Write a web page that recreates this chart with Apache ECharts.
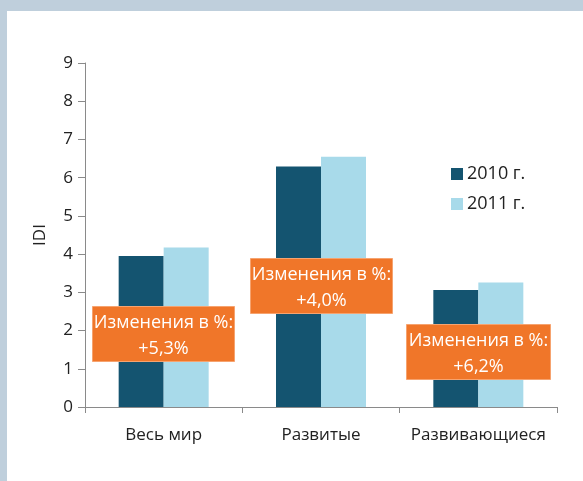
<!DOCTYPE html>
<html>
<head>
<meta charset="utf-8">
<script src="https://cdn.jsdelivr.net/npm/echarts@6/dist/echarts.min.js"></script>
<style>
    body { margin: 0; background: #bfcfdc; }
    #main {
        position: absolute;
        left: 7px;
        top: 11px;
        width: 576px;
        height: 470px;
        background: #ffffff;
    }
</style>
</head>
<body>
<div id="main"></div>
<script>
    // данные
    var categories = ['Весь мир', 'Развитые', 'Развивающиеся']
    var seriesNames = ['2010 г.', '2011 г.']
    var values2010 = [3.95, 6.29, 3.06]
    var values2011 = [4.17, 6.55, 3.26]
    var changeLabels = ['+5,3%', '+4,0%', '+6,2%']
    var changeTitle = 'Изменения в %:'

    var font = 'Open Sans'
    var myChart = echarts.init(document.getElementById('main'))

    // оранжевые плашки
    var boxes = [
        {x: 85, y: 295, w: 142, h: 55},
        {x: 243, y: 247, w: 142, h: 55},
        {x: 399, y: 313, w: 144, h: 55}
    ]
    var graphics = boxes.map(function (b, i) {
        return {
            type: 'group',
            left: b.x,
            top: b.y,
            zlevel: 1,
            children: [
                {
                    type: 'rect',
                    z: 100,
                    shape: {x: 0, y: 0, width: b.w, height: b.h},
                    style: {fill: '#f07629', stroke: '#f6a36f', lineWidth: 1}
                },
                {
                    type: 'text',
                    z: 101,
                    x: b.w / 2,
                    y: 16,
                    style: {
                        text: changeTitle,
                        fill: '#ffffff',
                        font: '18px "' + font + '"',
                        align: 'center',
                        verticalAlign: 'middle'
                    }
                },
                {
                    type: 'text',
                    z: 101,
                    x: b.w / 2,
                    y: 42,
                    style: {
                        text: changeLabels[i],
                        fill: '#ffffff',
                        font: '18px "' + font + '"',
                        align: 'center',
                        verticalAlign: 'middle'
                    }
                }
            ]
        }
    })

    myChart.setOption({
        animation: false,
        textStyle: {fontFamily: font},
        legend: {
            orient: 'vertical',
            left: 439,
            top: 149,
            itemWidth: 12,
            itemHeight: 12,
            itemGap: 12,
            icon: 'rect',
            data: seriesNames,
            textStyle: {fontSize: 18, color: '#222', fontFamily: font, padding: [0, 0, 0, -1]}
        },
        grid: {left: 78, top: 52, right: 26, bottom: 74},
        xAxis: {
            type: 'category',
            data: categories,
            axisLine: {lineStyle: {color: '#8a8a8a', width: 1}},
            axisTick: {show: true, length: 6, lineStyle: {color: '#8a8a8a'}},
            axisLabel: {interval: 0, fontSize: 17, color: '#222', margin: 20, fontFamily: font}
        },
        yAxis: {
            type: 'value',
            min: 0,
            max: 9,
            interval: 1,
            name: 'IDI',
            nameLocation: 'middle',
            nameRotate: 90,
            nameGap: 36,
            nameTextStyle: {fontSize: 17, color: '#222', fontFamily: font},
            axisLine: {show: true, lineStyle: {color: '#8a8a8a', width: 1}},
            axisTick: {show: true, length: 7, lineStyle: {color: '#8a8a8a'}},
            axisLabel: {fontSize: 17, color: '#222', margin: 12, fontFamily: font},
            splitLine: {show: false}
        },
        series: [
            {
                name: seriesNames[0],
                type: 'bar',
                data: values2010,
                barWidth: 45,
                barGap: '0%',
                itemStyle: {color: '#145470'}
            },
            {
                name: seriesNames[1],
                type: 'bar',
                data: values2011,
                barWidth: 45,
                itemStyle: {color: '#a8daea'}
            }
        ],
        graphic: graphics
    })
    window.onresize = myChart.resize
</script>
</body>
</html>
